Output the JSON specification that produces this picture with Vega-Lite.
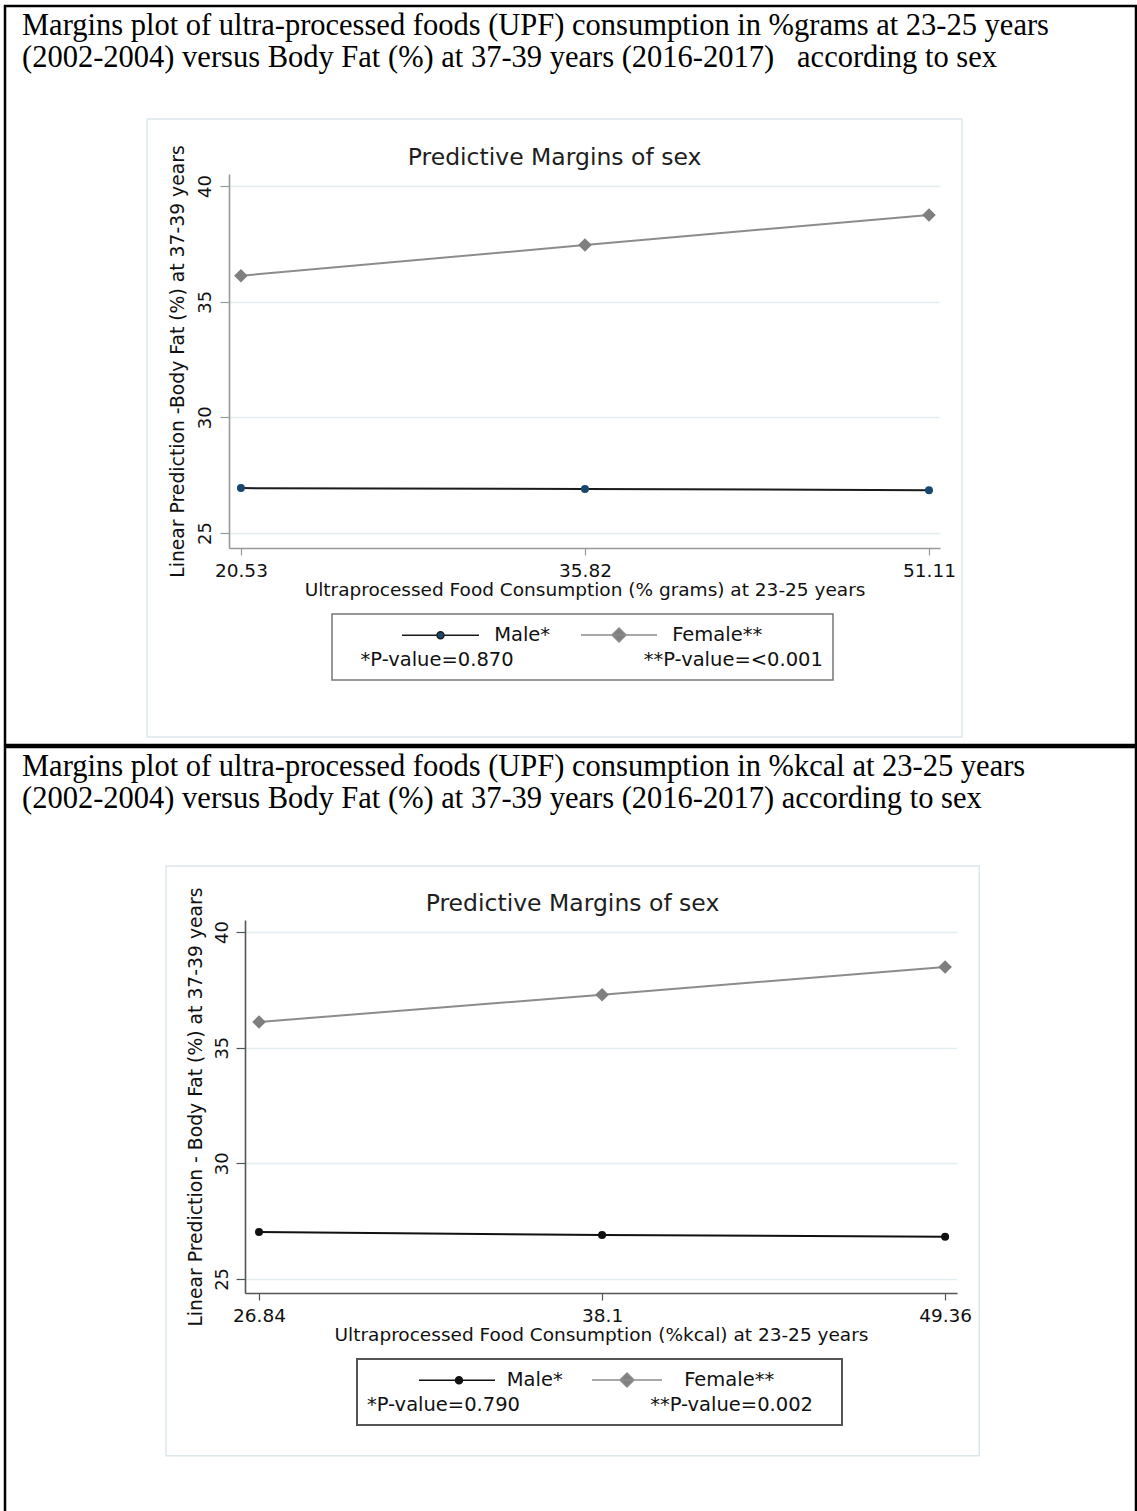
{
  "$schema": "https://vega.github.io/schema/vega-lite/v6.json",
  "background": "white",
  "padding": {"left": 3, "top": 4, "right": 0, "bottom": 0},
  "spacing": -2.5,
  "resolve": {"scale": {"color": "independent"}, "legend": {"color": "independent"}},
  "config": {
    "view": {"stroke": "black", "strokeWidth": 2.5, "fill": "white"}
  },
  "vconcat": [
    {
      "width": 1131,
      "height": 739,
      "title": {
        "text": ["Margins plot of ultra-processed foods (UPF) consumption in %grams at 23-25 years", "(2002-2004) versus Body Fat (%) at 37-39 years (2016-2017)\u00a0\u00a0 according to sex"],
        "anchor": "start", "frame": "group", "offset": -67, "dx": 17,
        "font": "Liberation Serif", "fontSize": 30.5, "fontWeight": "normal", "color": "black", "lineHeight": 31.5
      },
      "data": {"values": [
        {"sex": "Male", "upf": 20.53, "bf": 26.94},
        {"sex": "Male", "upf": 35.82, "bf": 26.90},
        {"sex": "Male", "upf": 51.11, "bf": 26.85},
        {"sex": "Female", "upf": 20.53, "bf": 36.12},
        {"sex": "Female", "upf": 35.82, "bf": 37.45},
        {"sex": "Female", "upf": 51.11, "bf": 38.75}
      ]},
      "layer": [
        {
          "data": {"values": [{"region": "graph"}]},
          "mark": {"type": "rect", "fill": null, "stroke": "#dde8eb", "strokeWidth": 1.5},
          "encoding": {"x": {"datum": 16.36, "type": "quantitative"}, "x2": {"datum": 52.58}, "y": {"datum": 42.9, "type": "quantitative"}, "y2": {"datum": 16.18}}
        },
        {
          "mark": {"type": "line", "strokeWidth": 2},
          "encoding": {
            "x": {"field": "upf", "type": "quantitative",
              "scale": {"domain": [20.0, 51.6], "range": [224, 935], "nice": false, "zero": false},
              "axis": {"values": [20.53, 35.82, 51.11], "labelExpr": "'' + datum.value", "offset": -197, "grid": false,
                "tickSize": 7, "tickColor": "#999999", "tickWidth": 1.2, "domainColor": "#999999", "domainWidth": 1.6,
                "labelFont": "DejaVu Sans", "labelFontSize": 18.5, "labelColor": "#111111", "labelPadding": 6, "labelFlush": false, "labelOverlap": false,
                "title": "Ultraprocessed Food Consumption (% grams) at 23-25 years",
                "titleFont": "DejaVu Sans", "titleFontSize": 18.5, "titleFontWeight": "normal", "titleColor": "#111111", "titlePadding": 1}},
            "y": {"field": "bf", "type": "quantitative",
              "scale": {"domain": [24.35, 40.52], "range": [542, 168], "nice": false, "zero": false},
              "axis": {"values": [25, 30, 35, 40], "offset": -224, "grid": true, "gridColor": "#e4edf0", "gridWidth": 1.5,
                "tickSize": 9, "tickColor": "#999999", "tickWidth": 1.2, "domainColor": "#999999", "domainWidth": 1.6,
                "labelAngle": -90, "labelAlign": "center", "labelBaseline": "alphabetic", "labelPadding": 10,
                "labelFont": "DejaVu Sans", "labelFontSize": 18, "labelColor": "#111111",
                "title": "Linear Prediction -Body Fat (%) at 37-39 years",
                "titleFont": "DejaVu Sans", "titleFontSize": 18.8, "titleFontWeight": "normal", "titleColor": "#111111", "titlePadding": 9}},
            "color": {"field": "sex", "type": "nominal",
              "scale": {"domain": ["Male", "Female"], "range": ["#1b1b1b", "#8c8c8c"]},
              "legend": {
                "orient": "none", "legendX": 327, "legendY": 608, "direction": "horizontal",
                "title": "\u200b\u00a0\u00a0\u00a0*P-value=0.870\u00a0\u00a0\u00a0\u00a0\u00a0\u00a0\u00a0\u00a0\u00a0\u00a0\u00a0\u00a0\u00a0\u00a0\u00a0\u00a0\u00a0\u00a0\u00a0\u00a0\u00a0**P-value=<0.001",
                "titleOrient": "bottom", "titleAnchor": "start", "titleBaseline": "top", "titlePadding": 6,
                "titleFont": "DejaVu Sans", "titleFontSize": 19.5, "titleFontWeight": "normal", "titleColor": "#111111", "titleLimit": 900,
                "labelFont": "DejaVu Sans", "labelFontSize": 19.5, "labelColor": "#111111", "labelLimit": 900, "labelOffset": 0,
                "labelExpr": "datum.value === 'Male' ? '\u200b\u00a0\u00a0\u00a0\u00a0\u00a0\u00a0\u00a0\u00a0\u00a0\u00a0\u00a0\u00a0\u00a0\u00a0\u00a0\u00a0\u00a0\u00a0\u00a0\u00a0\u00a0Male*' : '\u200b\u00a0\u00a0\u00a0\u00a0\u00a0\u00a0\u00a0\u00a0\u00a0\u00a0\u00a0\u00a0\u00a0\u00a0\u00a0\u00a0Female**'",
                "symbolSize": 400, "symbolStrokeWidth": 1.5, "columnPadding": 0, "padding": 10,
                "strokeColor": "#777777", "fillColor": "white",
                "encode": {
                  "legend": {"update": {"stroke": {"value": "#777777"}, "strokeWidth": {"value": 1.5}}},
                  "symbols": {"update": {
                  "shape": [{"test": "datum.value === 'Male'", "value": "M4.9,0L8.4,0M9.1,0L12.6,0M8.4,0A0.35,0.35,0,1,0,9.1,0A0.35,0.35,0,1,0,8.4,0Z"}, {"value": "M1.9,0L9.5,0M5.7,-0.7L6.4,0L5.7,0.7L5.0,0Z"}],
                  "fill": [{"test": "datum.value === 'Male'", "value": "#1a476f"}, {"value": "#7f7f7f"}],
                  "stroke": [{"test": "datum.value === 'Male'", "value": "#1b1b1b"}, {"value": "#8c8c8c"}],
                  "opacity": {"value": 1}
                }}}
              }}
          }
        },
        {
          "transform": [{"filter": "datum.sex === 'Male'"}],
          "mark": {"type": "point", "shape": "circle", "filled": true, "size": 64, "color": "#1a476f", "opacity": 1},
          "encoding": {"x": {"field": "upf", "type": "quantitative"}, "y": {"field": "bf", "type": "quantitative"}}
        },
        {
          "transform": [{"filter": "datum.sex === 'Female'"}],
          "mark": {"type": "point", "shape": "diamond", "filled": true, "size": 185, "color": "#7f7f7f", "opacity": 1},
          "encoding": {"x": {"field": "upf", "type": "quantitative"}, "y": {"field": "bf", "type": "quantitative"}}
        },
        {
          "data": {"values": [{"label": "Predictive Margins of sex"}]},
          "mark": {"type": "text", "font": "DejaVu Sans", "fontSize": 23.5, "color": "#1e1e1e", "align": "center", "baseline": "alphabetic"},
          "encoding": {"x": {"datum": 34.47}, "y": {"datum": 40.91}, "text": {"field": "label"}}
        }
      ]
    },
    {
      "width": 1131,
      "height": 772,
      "title": {
        "text": ["Margins plot of ultra-processed foods (UPF) consumption in %kcal at 23-25 years", "(2002-2004) versus Body Fat (%) at 37-39 years (2016-2017) according to sex"],
        "anchor": "start", "frame": "group", "offset": -67, "dx": 17,
        "font": "Liberation Serif", "fontSize": 30.5, "fontWeight": "normal", "color": "black", "lineHeight": 31.5
      },
      "data": {"values": [
        {"sex": "Male", "upf": 26.84, "bf": 27.03},
        {"sex": "Male", "upf": 38.1, "bf": 26.90},
        {"sex": "Male", "upf": 49.36, "bf": 26.82},
        {"sex": "Female", "upf": 26.84, "bf": 36.11},
        {"sex": "Female", "upf": 38.1, "bf": 37.29},
        {"sex": "Female", "upf": 49.36, "bf": 38.49}
      ]},
      "layer": [
        {
          "data": {"values": [{"region": "graph"}]},
          "mark": {"type": "rect", "fill": null, "stroke": "#dde8eb", "strokeWidth": 1.5},
          "encoding": {"x": {"datum": 23.79, "type": "quantitative"}, "x2": {"datum": 50.48}, "y": {"datum": 42.85, "type": "quantitative"}, "y2": {"datum": 17.35}}
        },
        {
          "mark": {"type": "line", "strokeWidth": 2},
          "encoding": {
            "x": {"field": "upf", "type": "quantitative",
              "scale": {"domain": [26.38, 49.75], "range": [240, 952], "nice": false, "zero": false},
              "axis": {"values": [26.84, 38.1, 49.36], "labelExpr": "'' + datum.value", "offset": -226, "grid": false,
                "tickSize": 7, "tickColor": "#555555", "tickWidth": 1.2, "domainColor": "#555555", "domainWidth": 1.6,
                "labelFont": "DejaVu Sans", "labelFontSize": 18.5, "labelColor": "#111111", "labelPadding": 6, "labelFlush": false, "labelOverlap": false,
                "title": "Ultraprocessed Food Consumption (%kcal) at 23-25 years",
                "titleFont": "DejaVu Sans", "titleFontSize": 18.5, "titleFontWeight": "normal", "titleColor": "#111111", "titlePadding": 1}},
            "y": {"field": "bf", "type": "quantitative",
              "scale": {"domain": [24.39, 40.52], "range": [546, 173], "nice": false, "zero": false},
              "axis": {"values": [25, 30, 35, 40], "offset": -240, "grid": true, "gridColor": "#e4edf0", "gridWidth": 1.5,
                "tickSize": 9, "tickColor": "#555555", "tickWidth": 1.2, "domainColor": "#555555", "domainWidth": 1.6,
                "labelAngle": -90, "labelAlign": "center", "labelBaseline": "alphabetic", "labelPadding": 9,
                "labelFont": "DejaVu Sans", "labelFontSize": 18, "labelColor": "#111111",
                "title": "Linear Prediction - Body Fat (%) at 37-39 years",
                "titleFont": "DejaVu Sans", "titleFontSize": 18.8, "titleFontWeight": "normal", "titleColor": "#111111", "titlePadding": 8}},
            "color": {"field": "sex", "type": "nominal",
              "scale": {"domain": ["Male", "Female"], "range": ["#111111", "#8c8c8c"]},
              "legend": {
                "orient": "none", "legendX": 352, "legendY": 612, "direction": "horizontal",
                "title": "*P-value=0.790\u00a0\u00a0\u00a0\u00a0\u00a0\u00a0\u00a0\u00a0\u00a0\u00a0\u00a0\u00a0\u00a0\u00a0\u00a0\u00a0\u00a0\u00a0\u00a0\u00a0\u00a0**P-value=0.002\u00a0\u00a0\u00a0\u200b",
                "titleOrient": "bottom", "titleAnchor": "start", "titleBaseline": "top", "titlePadding": 6,
                "titleFont": "DejaVu Sans", "titleFontSize": 19.5, "titleFontWeight": "normal", "titleColor": "#111111", "titleLimit": 900,
                "labelFont": "DejaVu Sans", "labelFontSize": 19.5, "labelColor": "#111111", "labelLimit": 900, "labelOffset": 0,
                "labelExpr": "datum.value === 'Male' ? '\u200b\u00a0\u00a0\u00a0\u00a0\u00a0\u00a0\u00a0\u00a0\u00a0\u00a0\u00a0\u00a0\u00a0\u00a0\u00a0\u00a0\u00a0\u00a0\u00a0Male*' : '\u200b\u00a0\u00a0\u00a0\u00a0\u00a0\u00a0\u00a0\u00a0\u00a0\u00a0\u00a0\u00a0\u00a0\u00a0\u00a0\u00a0Female**'",
                "symbolSize": 400, "symbolStrokeWidth": 1.5, "columnPadding": 0, "padding": 10,
                "strokeColor": "#555555", "fillColor": "white",
                "encode": {
                  "legend": {"update": {"stroke": {"value": "#555555"}, "strokeWidth": {"value": 2}}},
                  "symbols": {"update": {
                  "shape": [{"test": "datum.value === 'Male'", "value": "M4.1,0L7.75,0M8.45,0L11.7,0M7.75,0A0.35,0.35,0,1,0,8.45,0A0.35,0.35,0,1,0,7.75,0Z"}, {"value": "M1.8,0L8.8,0M5.3,-0.7L6.0,0L5.3,0.7L4.6,0Z"}],
                  "fill": [{"test": "datum.value === 'Male'", "value": "#111111"}, {"value": "#7f7f7f"}],
                  "stroke": [{"test": "datum.value === 'Male'", "value": "#111111"}, {"value": "#8c8c8c"}],
                  "opacity": {"value": 1}
                }}}
              }}
          }
        },
        {
          "transform": [{"filter": "datum.sex === 'Male'"}],
          "mark": {"type": "point", "shape": "circle", "filled": true, "size": 64, "color": "#111111", "opacity": 1},
          "encoding": {"x": {"field": "upf", "type": "quantitative"}, "y": {"field": "bf", "type": "quantitative"}}
        },
        {
          "transform": [{"filter": "datum.sex === 'Female'"}],
          "mark": {"type": "point", "shape": "diamond", "filled": true, "size": 185, "color": "#7f7f7f", "opacity": 1},
          "encoding": {"x": {"field": "upf", "type": "quantitative"}, "y": {"field": "bf", "type": "quantitative"}}
        },
        {
          "data": {"values": [{"label": "Predictive Margins of sex"}]},
          "mark": {"type": "text", "font": "DejaVu Sans", "fontSize": 23.5, "color": "#1e1e1e", "align": "center", "baseline": "alphabetic"},
          "encoding": {"x": {"datum": 37.13}, "y": {"datum": 40.91}, "text": {"field": "label"}}
        }
      ]
    }
  ]
}
